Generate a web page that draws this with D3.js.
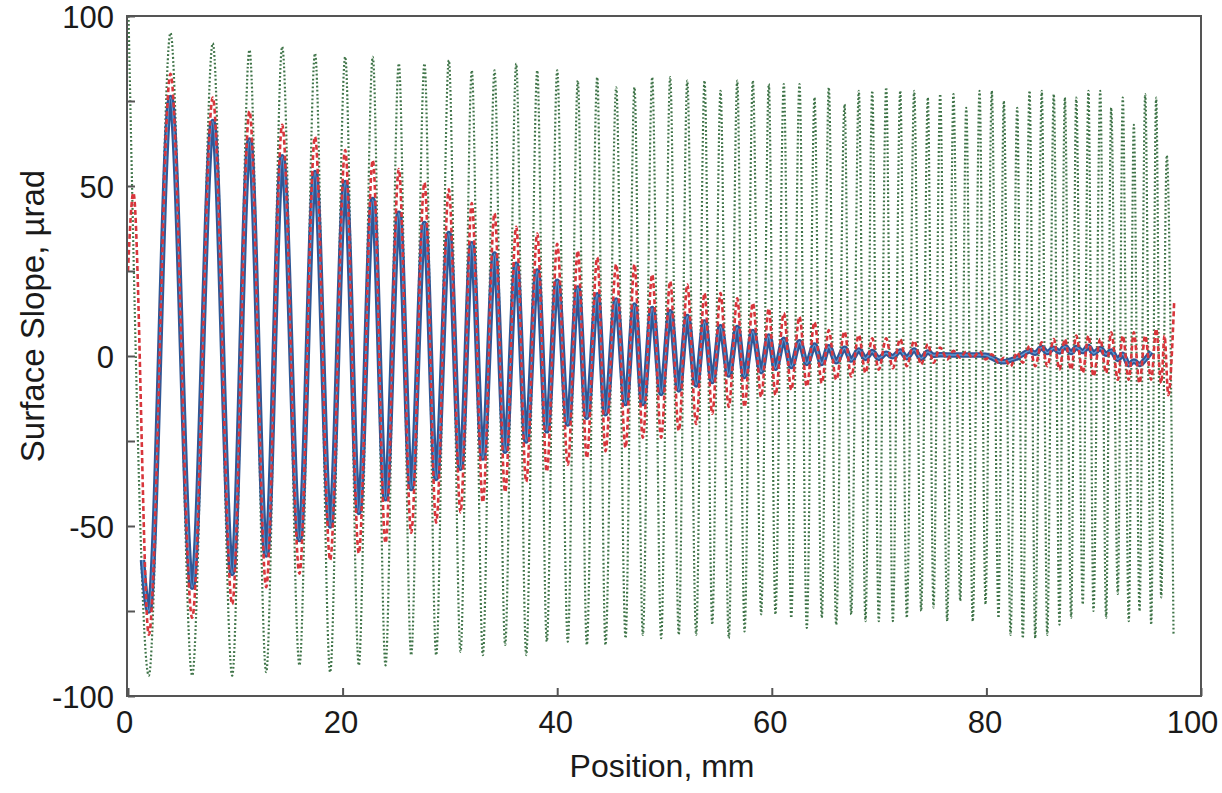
<!DOCTYPE html>
<html>
<head>
<meta charset="utf-8">
<script src="https://cdn.jsdelivr.net/npm/d3@7"></script>
<style>
  html, body { margin: 0; padding: 0; background: #ffffff; }
  svg text { font-family: "Liberation Sans", Arial, sans-serif; fill: #1a1a1a; }
</style>
</head>
<body>
<svg id="chart" width="1222" height="793"></svg>
<script>
// Extremum positions (mm): alternating trough / peak, shared by all three traces
const positionMm = [
  1.94, 3.96, 5.98, 7.90, 9.71, 11.32, 12.88, 14.37, 15.98, 17.43,
  18.84, 20.24, 21.51, 22.81, 24.00, 25.24, 26.39, 27.63, 28.72, 29.90,
  30.99, 32.04, 33.07, 34.16, 35.15, 36.18, 37.11, 38.14, 39.03, 40.00,
  40.99, 41.92, 42.76, 43.73, 44.50, 45.50, 46.37, 47.20, 47.98, 48.85,
  49.69, 50.53, 51.33, 52.12, 52.95, 53.73, 54.45, 55.22, 55.99, 56.78,
  57.46, 58.23, 59.01, 59.72, 60.34, 61.12, 61.81, 62.58, 63.26, 63.98,
  64.66, 65.31, 66.00, 66.78, 67.40, 68.11, 68.73, 69.36, 69.97, 70.66,
  71.28, 71.97, 72.58, 73.27, 73.92, 74.54, 75.07, 75.69, 76.35, 76.93,
  77.56, 78.12, 78.73, 79.36, 79.92, 80.50, 81.13, 81.62, 82.25, 82.87,
  83.39, 84.02, 84.55, 85.16, 85.67, 86.28, 86.81, 87.31, 87.90, 88.37,
  88.98, 89.51, 89.98, 90.61, 91.16, 91.63, 92.25, 92.71, 93.27, 93.74,
  94.27, 94.80, 95.36, 95.82, 96.29, 96.81, 97.44
];

// Green dotted trace (µrad) at the extremum positions
const greenSlope = [
  -94, 95, -94, 92, -94, 90, -93, 91, -91, 89,
  -93, 88, -91, 88, -91, 86, -88, 86, -88, 87,
  -87, 84, -88, 84, -85, 86, -88, 84, -84, 84,
  -84, 81, -85, 82, -85, 79, -83, 79, -82, 82,
  -83, 82, -82, 81, -82, 81, -79, 78, -83, 81,
  -81, 81, -76, 80, -76, 80, -77, 80, -80, 76,
  -77, 79, -79, 74, -76, 78, -78, 78, -78, 79,
  -78, 78, -77, 78, -75, 76, -74, 77, -78, 77,
  -72, 73, -78, 78, -73, 78, -77, 75, -82, 73,
  -83, 78, -83, 78, -82, 77, -79, 76, -77, 76,
  -73, 78, -75, 78, -77, 73, -70, 76, -78, 68,
  -75, 77, -79, 76, -71, 59, -82
];
const greenLead = [[0.05, 100]];
const greenTail = [];

// Red dashed trace
const redSlope = [
  -82, 83, -77, 76, -73, 72, -68, 68, -64, 64.5,
  -60, 60.6, -58, 57.6, -55, 55, -52, 51, -49, 49,
  -46, 45, -43, 42, -40, 38, -37, 36, -34, 33,
  -32, 31, -30, 29, -28, 27, -27, 27, -24, 24,
  -24, 22, -22, 21, -20, 18.5, -17, 18.5, -15, 17,
  -15, 15.6, -12, 14, -11.5, 12.6, -10, 11.6, -9, 10,
  -8, 7.6, -7, 7.2, -6, 6.2, -5, 5.2, -4, 5.2,
  -3.6, 5, -3, 4.5, -2.5, 3.5, -2, 2.5, -1, 1.5,
  -0.5, 1.3, -0.5, 1.3, -1, 0.5, -2, -0.5, -3, 1,
  -2, 3, -3, 4, -3, 5, -4, 5, -4, 6,
  -5, 6, -6, 5, -5, 7, -7, 6, -7, 7,
  -8, 6, -7, 8, -8, null, null
];
const redLead = [[0, 25], [0.5, 48]];
const redTail = [[96.6, 6], [96.95, -11.5], [97.5, 16]];

// Blue solid trace
const blueSlope = [
  -75, 76, -68, 69, -64, 63.5, -58.5, 58.6, -54, 54,
  -50, 51, -46, 46, -42, 42, -39, 39, -36, 36,
  -33, 33, -30, 30, -28, 27, -25, 25, -22, 22,
  -20, 20, -18, 18, -17, 16.5, -14, 15, -14, 14,
  -11, 13, -10, 11.6, -8.5, 10, -7.5, 8.6, -5.6, 8.4,
  -6, 7.2, -4.6, 5.9, -3.6, 4.9, -3.1, 4.2, -2.2, 3.2,
  -2.2, 2.7, -1.7, 2.3, -1.2, 1.8, -0.7, 1.3, -0.7, 0.8,
  -0.2, 1.5, -0.5, 1.8, -0.7, 1.2, 0.2, 0.4, 0.3, 0.3,
  0.3, 0.3, 0.3, 0.3, 0.2, -0.5, -1.5, -1.7, -1.2, -0.5,
  0.5, 1.5, 0.8, 2.5, 1.0, 2.3, 1.2, 2.8, 1.0, 2.5,
  1.3, 2.8, 0.8, 2.2, 0.5, 1.5, -1.0, 0.5, -2.6, -1.5,
  -2.5, -1.0, 1.2, null, null, null, null
];
const blueLead = [[1.35, -60]];
const blueTail = [];

const xTicks = [0, 20, 40, 60, 80, 100];
const yTicks = [-100, -75, -50, -25, 0, 25, 50, 75, 100];
const yLabels = [-100, -50, 0, 50, 100];
const xTitle = "Position, mm";
const yTitle = "Surface Slope, µrad";

(function draw() {
  const svg = d3.select("#chart");
  const mLeft = 128, mRight = 1201, mTop = 16, mBottom = 696;
  const FONT = '"Liberation Sans", Arial, sans-serif';

  const x = d3.scaleLinear().domain([0, 100]).range([mLeft, mRight]);
  const y = d3.scaleLinear().domain([-100, 100]).range([mBottom, mTop]);

  function buildPoints(lead, vals, tail) {
    const pts = lead.slice();
    vals.forEach((v, i) => { if (v !== null && i < positionMm.length) pts.push([positionMm[i], v]); });
    return pts.concat(tail);
  }

  const line = d3.line()
    .x(d => x(d[0]))
    .y(d => y(d[1]))
    .curve(d3.curveMonotoneX);

  svg.append("defs").append("clipPath").attr("id", "plotclip")
    .append("rect").attr("x", mLeft).attr("y", mTop - 1)
    .attr("width", mRight - mLeft).attr("height", mBottom - mTop + 2);

  const plot = svg.append("g").attr("clip-path", "url(#plotclip)");

  plot.append("path")
    .datum(buildPoints(greenLead, greenSlope, greenTail))
    .attr("d", line)
    .attr("fill", "none")
    .attr("stroke", "#3f7448")
    .attr("stroke-width", 2.2)
    .attr("stroke-dasharray", "1.8,2.2");

  const bluePts = buildPoints(blueLead, blueSlope, blueTail);
  plot.append("path")
    .datum(bluePts)
    .attr("d", line)
    .attr("fill", "none")
    .attr("stroke", "#2f5796")
    .attr("stroke-width", 5.5)
    .attr("stroke-linejoin", "round");
  plot.append("path")
    .datum(bluePts)
    .attr("d", line)
    .attr("fill", "none")
    .attr("stroke", "#5d9bd6")
    .attr("stroke-width", 1.4);

  plot.append("path")
    .datum(buildPoints(redLead, redSlope, redTail))
    .attr("d", line)
    .attr("fill", "none")
    .attr("stroke", "#d8363c")
    .attr("stroke-width", 2.6)
    .attr("stroke-dasharray", "5,3");

  svg.append("rect")
    .attr("x", mLeft - 1).attr("y", mTop)
    .attr("width", mRight - mLeft + 1).attr("height", mBottom - mTop)
    .attr("fill", "none").attr("stroke", "#555").attr("stroke-width", 2);

  const xAxis = d3.axisBottom(x).tickValues(xTicks).tickSize(-8).tickPadding(15)
    .tickFormat(d => String(d));
  const gx = svg.append("g").attr("transform", `translate(0,${mBottom})`).call(xAxis);
  gx.select(".domain").remove();
  gx.selectAll(".tick line").attr("stroke", "#555").attr("stroke-width", 2);
  gx.selectAll(".tick text").attr("font-size", 31).attr("fill", "#1a1a1a")
    .attr("font-family", FONT)
    .attr("dx", d => d === 100 ? -9 : (d === 0 ? -4 : -2));

  const yAxis = d3.axisLeft(y).tickValues(yTicks).tickSize(-7).tickPadding(14)
    .tickFormat(d => yLabels.includes(d) ? String(d) : "");
  const gy = svg.append("g").attr("transform", `translate(${mLeft},0)`).call(yAxis);
  gy.select(".domain").remove();
  gy.selectAll(".tick line").attr("stroke", "#555").attr("stroke-width", 2);
  gy.selectAll(".tick text").attr("font-size", 31).attr("fill", "#1a1a1a").attr("dy", "0.38em")
    .attr("font-family", FONT);

  svg.append("text")
    .attr("x", 662).attr("y", 777)
    .attr("text-anchor", "middle").attr("font-size", 32)
    .text(xTitle);

  svg.append("text")
    .attr("transform", "translate(44,316) rotate(-90)")
    .attr("text-anchor", "middle").attr("font-size", 33)
    .text(yTitle);
})();
</script>
</body>
</html>
